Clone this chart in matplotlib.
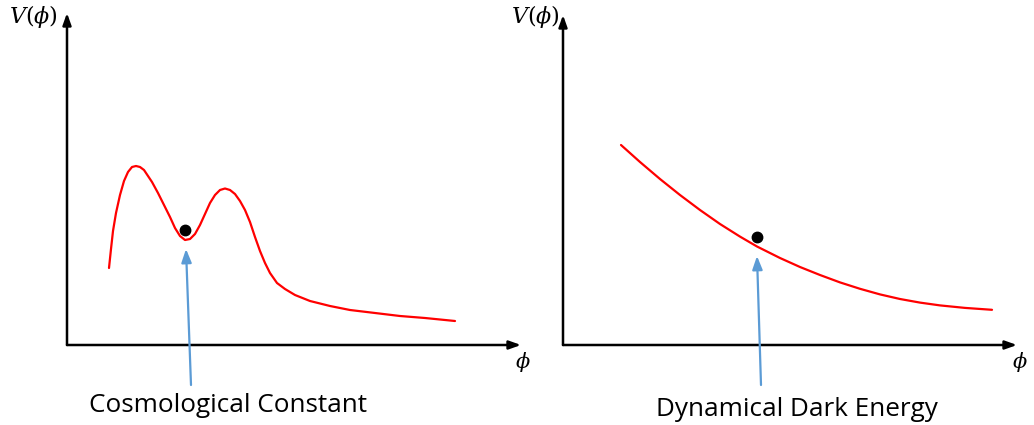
import matplotlib
matplotlib.use("Agg")
import matplotlib.pyplot as plt

# ---- data (phi, V); units relative to each panel's axis origin ----
left_phi = [42, 44, 46, 49, 53, 57, 61, 65, 69, 73, 77, 81, 85, 91, 97, 103, 108, 113, 118,
            123, 128, 133, 138, 143, 148, 153, 158, 163, 168, 173, 178, 183, 188, 193, 198,
            203, 210, 218, 228, 243, 263, 283, 308, 333, 358, 388]
left_V = [77, 96, 114, 132, 150, 164, 173, 178, 179, 178, 175, 169, 163, 152, 140, 128, 117,
          109, 105, 106, 111, 120, 131, 142, 150, 155, 156.5, 155, 151, 144, 135, 123, 108,
          94, 82, 72, 62, 56, 50, 44, 39, 35, 32, 29, 27, 24]

right_phi = [58, 77, 97, 117, 137, 157, 177, 194, 217, 237, 257, 277, 297, 317, 337, 357,
             377, 402, 429]
right_V = [200, 183, 166, 150, 135, 121, 108.4, 98.5, 87, 78, 70, 62.6, 56.2, 50.6, 46,
           42.4, 39.6, 37.1, 35.2]

left_ball = (118, 115)
right_ball = (194, 108)

left_label = "Cosmological Constant"
right_label = "Dynamical Dark Energy"

RED = "#FF0000"
BLUE = "#5B9BD5"

plt.rcParams["mathtext.fontset"] = "dejavuserif"
fig = plt.figure(figsize=(10.34, 4.25), dpi=100)

def panel(rect, xlim, phi, V, ball, arrow_top, arrow_bot, label, label_xy, ytip, xtip, vlab_xy, philab_xy):
    ax = fig.add_axes(rect)
    ax.set_xlim(*xlim)
    ax.set_ylim(-80, 345)
    ax.axis("off")
    ap = dict(arrowstyle="-|>,head_length=0.7,head_width=0.25",
              color="black", lw=1.8, shrinkA=0, shrinkB=0)
    ax.annotate("", xy=(0, ytip), xytext=(0, 0), arrowprops=ap, annotation_clip=False)
    ax.annotate("", xy=(xtip, 0), xytext=(0, 0), arrowprops=ap, annotation_clip=False)
    ax.plot(phi, V, color=RED, lw=1.6, solid_joinstyle="round", solid_capstyle="round")
    ax.plot([ball[0]], [ball[1]], "o", color="black", ms=7.5)
    ax.annotate("", xy=arrow_top, xytext=arrow_bot, annotation_clip=False,
                arrowprops=dict(arrowstyle="-|>,head_length=0.8,head_width=0.3",
                                color=BLUE, lw=1.6, shrinkA=0, shrinkB=0))
    ax.text(label_xy[0], label_xy[1], label, ha="center", va="center",
            fontsize=18.8, family="Open Sans", color="black")
    ax.text(vlab_xy[0], vlab_xy[1], r"$V(\phi)$", ha="center", va="center", fontsize=16)
    ax.text(philab_xy[0], philab_xy[1], r"$\phi$", ha="center", va="center", fontsize=15)
    return ax

# left panel: figure px 0..517, origin at px (67, 345)
panel([0, 0, 0.5, 1], (-67, 450), left_phi, left_V, left_ball,
      (119, 96), (124, -40), left_label, (161, -60), 332, 454, (-34, 329), (456, -17))
# right panel: figure px 517..1034, origin at px (563, 345)
panel([0.5, 0, 0.5, 1], (-46, 471), right_phi, right_V, right_ball,
      (194, 89), (198, -40), right_label, (234, -65), 330, 454, (-28, 329), (457, -17))

fig.savefig("out.png", dpi=100)
